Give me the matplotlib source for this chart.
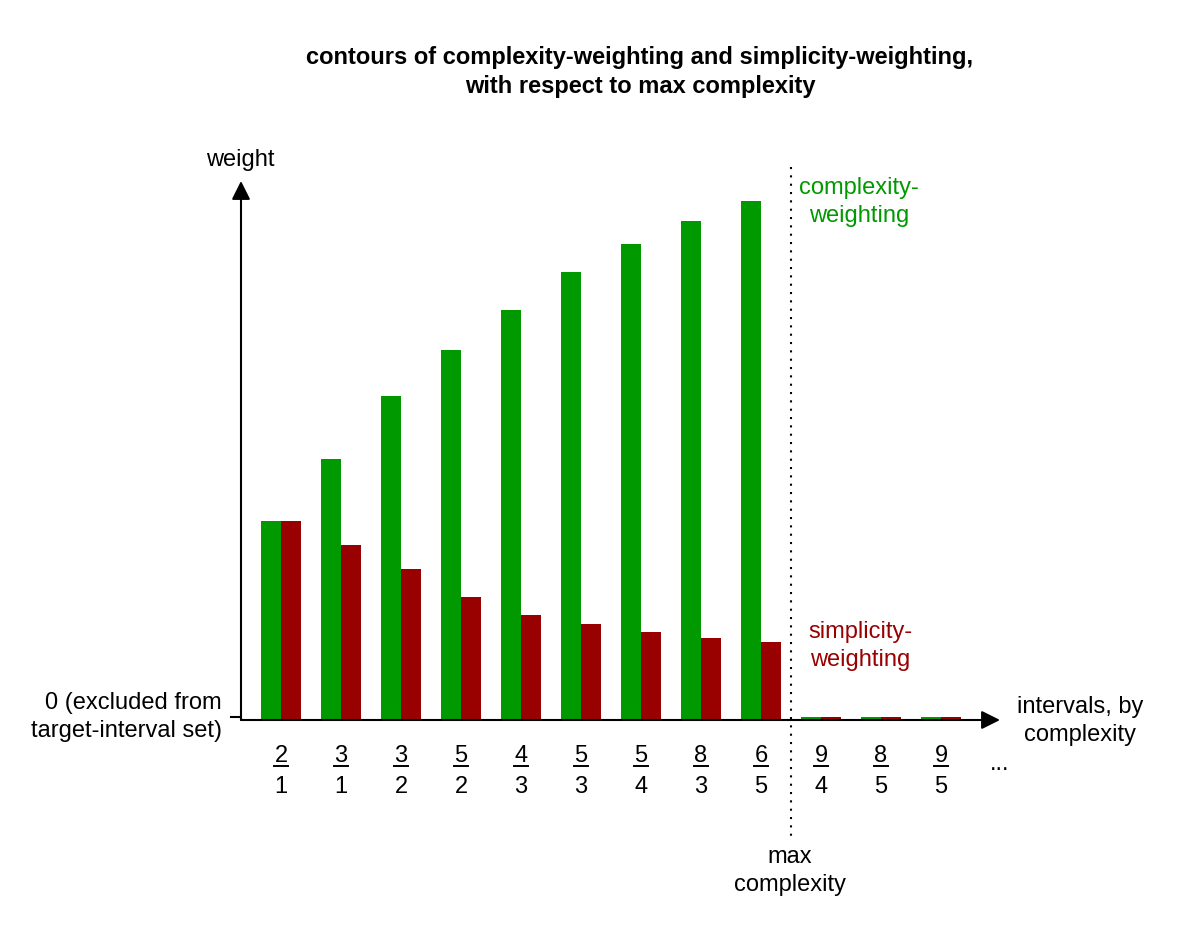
import matplotlib
matplotlib.use("Agg")
import matplotlib.pyplot as plt

plt.rcParams['font.family'] = ['Liberation Sans', 'DejaVu Sans']

# intervals in order of complexity (numerator / denominator)
numerators = ['2', '3', '3', '5', '4', '5', '5', '8', '6', '9', '8', '9']
denominators = ['1', '1', '2', '2', '3', '3', '4', '3', '5', '4', '5', '5']

# weights (first interval = 1), last three are excluded
complexity_w = [1.00, 1.31, 1.63, 1.86, 2.06, 2.25, 2.39, 2.51, 2.61, 0.015, 0.015, 0.015]
simplicity_w = [1.00, 0.88, 0.76, 0.62, 0.53, 0.48, 0.44, 0.41, 0.39, 0.015, 0.015, 0.015]
max_index = 8  # last interval inside max complexity

GREEN = '#009900'
RED = '#990000'
W, H = 1182, 944


def fx(px):
    return px / W


def fy(py):
    return 1 - py / H


def ay(py):
    # pixel row -> axes fraction (baseline at 720, top at 181)
    return (720 - py) / 539


fig = plt.figure(figsize=(W / 100, H / 100), dpi=100)
ax = fig.add_axes([fx(241), fy(720), (1000 - 241) / W, (720 - 181) / H])

x = list(range(len(numerators)))
bw = 1 / 3
ax.bar([i - bw / 2 for i in x], complexity_w, width=bw, color=GREEN, linewidth=0)
ax.bar([i + bw / 2 for i in x], simplicity_w, width=bw, color=RED, linewidth=0)

ax.set_xlim(-2 / 3, 11.983)
ax.set_ylim(0, 2.709)
for s in ax.spines.values():
    s.set_visible(False)
ax.set_xticks([])
ax.set_yticks([])

# axes with arrow heads
ax.annotate('', xy=(1, 0), xytext=(0, 0), xycoords='axes fraction',
            arrowprops=dict(arrowstyle='-|>', color='black', lw=1.5,
                            mutation_scale=28, shrinkA=0, shrinkB=0))
ax.annotate('', xy=(0, 1), xytext=(0, 0), xycoords='axes fraction',
            arrowprops=dict(arrowstyle='-|>', color='black', lw=1.5,
                            mutation_scale=28, shrinkA=0, shrinkB=0))
# zero tick
ax.plot([-0.0132, 0], [0.015, 0.015], color='black', lw=1.5,
        transform=ax.get_yaxis_transform(), clip_on=False)

# fraction tick labels
tr = ax.get_xaxis_transform()
fs = 17
for i in x:
    ax.text(i, ay(762), numerators[i], ha='center', va='baseline',
            fontsize=fs, transform=tr)
    ax.plot([i - 0.11, i + 0.11], [ay(766)] * 2, color='black',
            lw=1.4, transform=tr, clip_on=False)
    ax.text(i, ay(793), denominators[i], ha='center', va='baseline',
            fontsize=fs, transform=tr)
ax.text(11.98, ay(770), '...', ha='center', va='baseline',
        fontsize=fs, transform=tr)

# max complexity divider
ax.plot([max_index + 0.5] * 2, [ay(167), ay(842)],
        color='black', lw=1.5, linestyle=(0, (1, 3)), transform=tr, clip_on=False)

fig.text(fx(640), fy(72), 'contours of complexity-weighting and simplicity-weighting,\n'
         'with respect to max complexity', ha='center', va='center',
         fontsize=fs, fontweight='bold', linespacing=1.3)
fig.text(fx(240), fy(160), 'weight', ha='center', va='center', fontsize=fs)
fig.text(fx(222), fy(717), '0 (excluded from\ntarget-interval set)', ha='right',
         va='center', fontsize=fs, linespacing=1.3)
fig.text(fx(1080), fy(721), 'intervals, by\ncomplexity', ha='center', va='center',
         fontsize=fs, linespacing=1.3)
fig.text(fx(859), fy(202), 'complexity-\nweighting', ha='center', va='center',
         fontsize=fs, color=GREEN, linespacing=1.3)
fig.text(fx(860), fy(646), 'simplicity-\nweighting', ha='center', va='center',
         fontsize=fs, color=RED, linespacing=1.3)
fig.text(fx(790), fy(871), 'max\ncomplexity', ha='center', va='center',
         fontsize=fs, linespacing=1.3)

fig.savefig('out.png', dpi=100, facecolor='white')
